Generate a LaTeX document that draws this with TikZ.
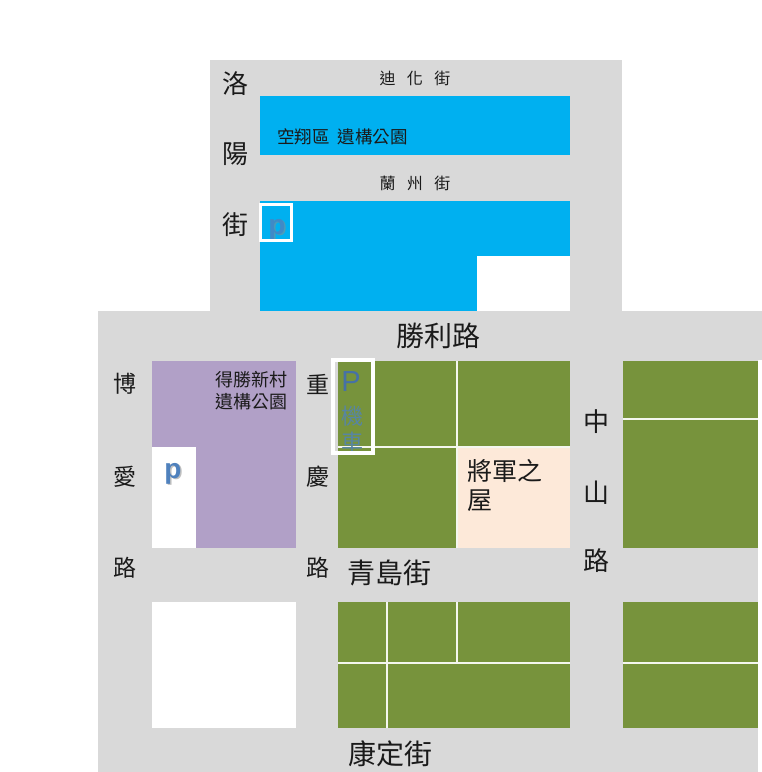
\documentclass[tikz,border=0pt]{standalone}
\usepackage{fontspec}
\setmainfont{Noto Sans CJK TC}
\newfontfamily\latinsf{Liberation Sans}
\definecolor{road}{HTML}{D9D9D9}
\definecolor{sky}{HTML}{00B0F0}
\definecolor{lilac}{HTML}{B1A0C7}
\definecolor{olive}{HTML}{77933C}
\definecolor{peach}{HTML}{FDE9D9}
\definecolor{pblue}{HTML}{4F81BD}
\definecolor{ink}{HTML}{1A1A1A}
\newcommand{\fs}[1]{\fontsize{#1}{#1}\selectfont}
\tikzset{
  x=1pt,y=-1pt,
  split/.style={draw=white!92!olive,line width=1.6pt},
  frame/.style={draw=white,line width=3.6pt},
  lab/.style={inner sep=0pt,text=ink,font=\fs{25}},
  small/.style={inner sep=0pt,text=ink,font=\fs{16}},
  big/.style={inner sep=0pt,text=ink,font=\fs{28}},
  pmark/.style={inner sep=0pt,text=pblue,font=\latinsf\bfseries\fs{28}},
  pshadow/.style={inner sep=0pt,text=black!45,opacity=.55,font=\latinsf\bfseries\fs{28}},
}
\begin{document}
\begin{tikzpicture}
\useasboundingbox (0,0) rectangle (762,772);
% roads
\fill[road] (210,60) rectangle (622,312);
\fill[road] (98,311) rectangle (762,360);
\fill[road] (98,360) rectangle (757.5,772);
% upper blue blocks
\fill[sky] (260,96) rectangle (570,155);
\fill[sky] (260,201) rectangle (570,311);
\fill[white] (477,256) rectangle (570,311);
% purple block
\fill[lilac] (152,361) rectangle (296,548);
\fill[white] (152,447) rectangle (196,548);
\fill[white] (152,602) rectangle (296,728);
% green blocks
\fill[olive] (338,361) rectangle (570,548);
\fill[peach] (457.5,447.5) rectangle (570,548);
\fill[olive] (623,361) rectangle (757.5,548);
\fill[olive] (338,602) rectangle (570,728);
\fill[olive] (623,602) rectangle (757.5,728);
% lot splits
\draw[split] (338,447) -- (570,447);
\draw[split] (457,361) -- (457,548);
\draw[split] (623,419) -- (757.5,419);
\draw[split] (338,663) -- (570,663);
\draw[split] (387,602) -- (387,728);
\draw[split] (457,602) -- (457,663);
\draw[split] (623,663) -- (757.5,663);
% road names
\node[lab,font=\fs{26}] (luo1) at (235,84) {洛};
\node[lab,font=\fs{26}] (luo2) at (235,154) {陽};
\node[lab,font=\fs{26}] (luo3) at (235,225) {街};
\node[small] (dihua) at (415,78) {\spaceskip=11.5pt 迪 化 街};
\node[small] (lanzhou) at (415,183) {\spaceskip=11.5pt 蘭 州 街};
\node[big] (shengli) at (438.5,336) {勝利路};
\node[big] (qingdao) at (389.5,573) {青島街};
\node[big] (kangding) at (390,754) {康定街};
\node[lab,font=\fs{23}] (bo1) at (125,384) {博};
\node[lab,font=\fs{23}] (bo2) at (125,477) {愛};
\node[lab,font=\fs{23}] (bo3) at (125,568) {路};
\node[lab,font=\fs{23}] (ch1) at (318,384) {重};
\node[lab,font=\fs{23}] (ch2) at (318,477) {慶};
\node[lab,font=\fs{23}] (ch3) at (318,568) {路};
\node[lab,font=\fs{26}] (zh1) at (596,422) {中};
\node[lab,font=\fs{26}] (zh2) at (596,493) {山};
\node[lab,font=\fs{26}] (zh3) at (596,561) {路};
% site names
\node[inner sep=0pt,text=ink,font=\fs{17.5},anchor=west] (kong) at (277,137) {\spaceskip=8pt 空翔區 遺構公園};
\node[inner sep=0pt,text=ink,font=\fs{18},anchor=center] (desheng1) at (251.5,379.5) {得勝新村};
\node[inner sep=0pt,text=ink,font=\fs{18},anchor=center] (desheng2) at (251.5,402) {遺構公園};
\node[inner sep=0pt,text=ink,font=\fs{25},anchor=west] (house1) at (467,471) {將軍之};
\node[inner sep=0pt,text=ink,font=\fs{25},anchor=west] (house2) at (467,501) {屋};
% parking marks
\node[pshadow] (p1s) at (278.5,230.5) {p};
\node[pmark,text=pblue!80!sky] (p1) at (277,229.5) {p};
\draw[frame] (260.5,204.5) rectangle (291.5,240.5);
\node[pshadow] (p2s) at (174.5,475) {p};
\node[pmark] (p2) at (173,474) {p};
\node[inner sep=0pt,text=pblue!88!black,font=\latinsf\fs{29}] (p3) at (351,382) {P};
\node[inner sep=0pt,text=pblue!80!olive,font=\fs{22}] (m1) at (352,416) {機};
\node[inner sep=0pt,text=pblue!80!olive,font=\fs{22}] (m2) at (352,442) {車};
\draw[frame] (332.8,359.8) rectangle (373.2,453.2);
\end{tikzpicture}
\end{document}
